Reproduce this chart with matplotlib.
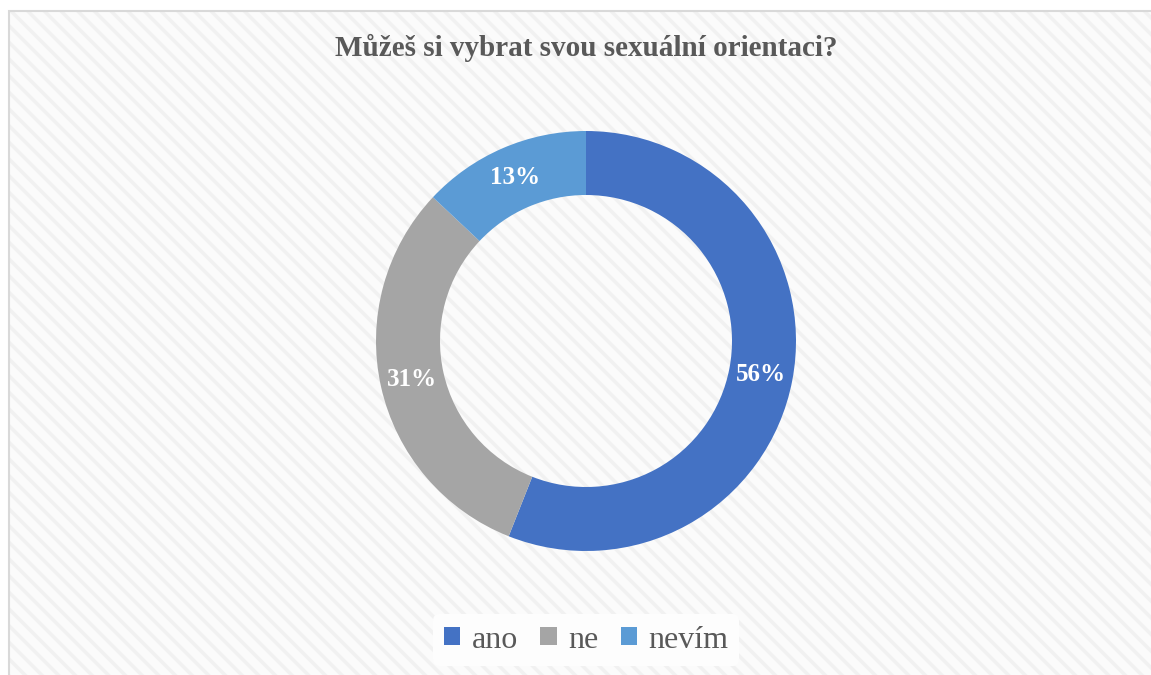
import matplotlib
matplotlib.use('Agg')
import matplotlib.pyplot as plt
from matplotlib.patches import Rectangle

# data
labels = ['ano', 'ne', 'nevím']
values = [56, 31, 13]
colors = ['#4472C4', '#A5A5A5', '#5B9BD5']
title = 'Můžeš si vybrat svou sexuální orientaci?'

W, H = 1151, 675
plt.rcParams['font.family'] = ['Liberation Serif', 'DejaVu Serif']
plt.rcParams['hatch.linewidth'] = 2.5
plt.rcParams['hatch.color'] = '#f1f1f1'

fig = plt.figure(figsize=(W / 100, H / 100), dpi=100)
fig.patch.set_facecolor('white')

# whole-figure axes in pixel units
ax = fig.add_axes([0, 0, 1, 1])
ax.set_xlim(0, W)
ax.set_ylim(0, H)
ax.set_aspect('equal')
ax.axis('off')

# chart area with diagonal stripes and light border
bg = Rectangle((9, -5), W, H - 10 + 5, facecolor='#fbfbfb', edgecolor='#f1f1f1',
               hatch='\\\\', linewidth=0, zorder=0)
ax.add_patch(bg)
frame = Rectangle((9.5, -5), W, H - 10.5 + 5, facecolor='none', edgecolor='#d9d9d9',
                  linewidth=1.5, zorder=1)
ax.add_patch(frame)

cx, cy, r = 586, H - 341, 210
wedges, texts, autotexts = ax.pie(
    values, colors=colors, center=(cx, cy), radius=r,
    startangle=90, counterclock=False,
    autopct='%d%%', pctdistance=0.85,
    wedgeprops=dict(width=64, edgecolor='none'),
    textprops=dict(color='white', fontsize=18, fontweight='bold'),
)
for w in wedges:
    w.set_zorder(3)
for t in autotexts:
    t.set_zorder(4)

ax.set_xlim(0, W)
ax.set_ylim(0, H)

ax.text(cx, H - 48, title, ha='center', va='center', fontsize=21,
        fontweight='bold', color='#595959', zorder=5)

leg = fig.legend(wedges, labels, loc='center', bbox_to_anchor=(586 / W, 1 - 640 / H),
                 ncol=3, frameon=True, fontsize=23, handlelength=0.52, handleheight=0.52,
                 handletextpad=0.35, columnspacing=0.7, borderpad=0.35)
leg.get_frame().set_facecolor('#fdfdfd')
leg.get_frame().set_edgecolor('none')
leg.get_frame().set_alpha(1)
for t in leg.get_texts():
    t.set_color('#595959')

fig.savefig('out.png', dpi=100)
